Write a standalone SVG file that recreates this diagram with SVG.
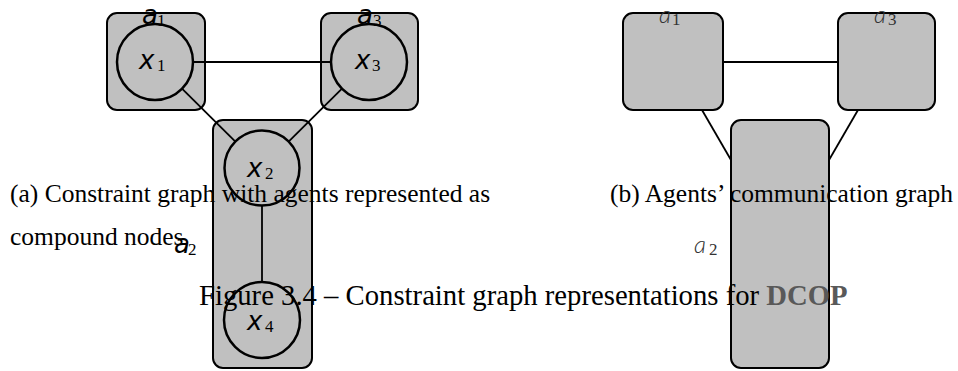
<svg xmlns="http://www.w3.org/2000/svg" width="958" height="371" viewBox="0 0 958 371">
<style>
.box{fill:#c0c0c0;stroke:#000;stroke-width:2}
.var{fill:#c0c0c0;stroke:#000;stroke-width:2.5}
.edge{stroke:#000;stroke-width:1.8;fill:none}
.lab{font-family:"DejaVu Sans",sans-serif;font-style:oblique;font-size:26px;fill:#000}
.labr{font-family:"Lato","DejaVu Sans",sans-serif;font-style:italic;font-weight:300;font-size:24px;fill:#333}
.sub{font-family:"Liberation Serif",serif;font-style:normal;font-weight:normal;font-size:17px}
.cap{font-family:"Liberation Serif",serif;font-size:25.5px;fill:#000}
.fig{font-family:"Liberation Serif",serif;font-size:28.7px;fill:#000}
</style>
<rect width="958" height="371" fill="#fff"/>
<g id="a1"><rect class="box" x="107" y="13" width="98" height="97" rx="10"/></g>
<g id="a3"><rect class="box" x="321" y="13" width="97" height="97" rx="10"/></g>
<g id="a2"><rect class="box" x="213" y="120" width="99" height="248" rx="10"/></g>
<g id="b_a1"><rect class="box" x="623" y="13" width="100" height="97" rx="10"/></g>
<g id="b_a3"><rect class="box" x="838" y="13" width="97" height="97" rx="10"/></g>
<g id="b_a2"><rect class="box" x="731" y="120" width="98" height="248" rx="10"/></g>
<g id="connectors">
<line class="edge" x1="193" y1="62" x2="331" y2="62"/>
<line class="edge" x1="182" y1="88.7" x2="235.4" y2="141.7"/>
<line class="edge" x1="342" y1="88.7" x2="288.6" y2="141.7"/>
<line class="edge" x1="262" y1="205" x2="262" y2="282"/>
<line class="edge" x1="723" y1="62" x2="838" y2="62"/>
<line class="edge" x1="702" y1="110" x2="731" y2="160"/>
<line class="edge" x1="858" y1="110" x2="829" y2="160"/>
</g>
<g id="x1"><circle class="var" cx="155" cy="62" r="38"/><text class="lab" x="139" y="69" font-size="28">x<tspan class="sub" x="157" y="71">1</tspan></text></g>
<g id="x3"><circle class="var" cx="369" cy="62" r="38"/><text class="lab" x="355" y="69" font-size="28">x<tspan class="sub" x="372" y="71">3</tspan></text></g>
<g id="x2"><circle class="var" cx="262" cy="168" r="37.5"/><text class="lab" x="247" y="177" font-size="28">x<tspan class="sub" x="265" y="179">2</tspan></text></g>
<g id="x4"><circle class="var" cx="262" cy="320" r="38"/><text class="lab" x="247" y="330" font-size="28">x<tspan class="sub" x="265" y="332">4</tspan></text></g>
<g id="labels">
<text class="lab" x="142" y="24">a<tspan class="sub" x="157" y="26">1</tspan></text>
<text class="lab" x="357" y="24">a<tspan class="sub" x="373" y="26">3</tspan></text>
<text class="lab" x="174" y="253">a<tspan class="sub" x="188" y="255">2</tspan></text>
<text class="labr" x="659" y="23">a<tspan class="sub" x="672" y="25">1</tspan></text>
<text class="labr" x="874" y="23">a<tspan class="sub" x="888" y="25">3</tspan></text>
<text class="labr" x="694" y="253">a<tspan class="sub" x="709" y="255">2</tspan></text>
</g>
<g id="captions">
<text class="cap" x="10" y="202">(a) Constraint graph with agents represented as</text>
<text class="cap" x="10" y="245">compound nodes</text>
<text class="cap" x="610" y="202">(b) Agents’ communication graph</text>
<text class="fig" x="199" y="305">Figure 3.4 – Constraint graph representations for <tspan font-weight="bold" fill="#595959">DCOP</tspan></text>
</g>
</svg>
